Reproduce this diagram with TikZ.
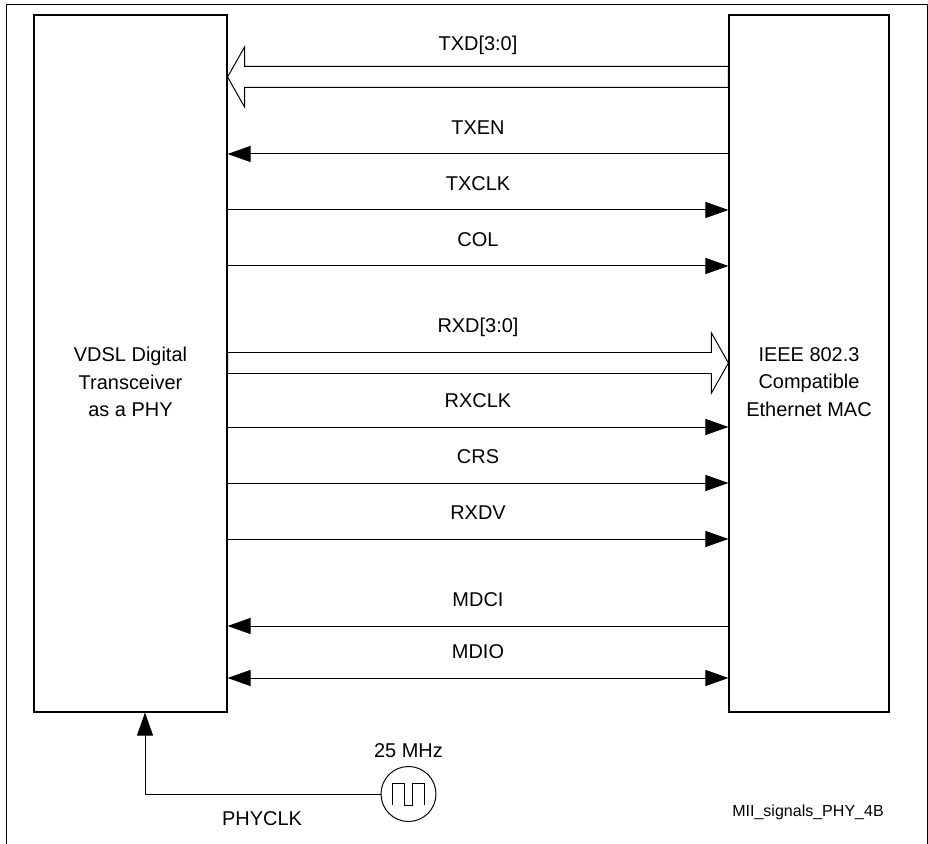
\documentclass[tikz,border=0pt]{standalone}
\usepackage{fontspec}
\setmainfont{Liberation Sans}
\usetikzlibrary{arrows.meta,calc}

\newcommand\sigfont{\fontsize{14.2}{19.6}\selectfont}
\newcommand\notefont{\fontsize{11.4}{13.7}\selectfont}

\tikzset{
  >={Triangle[length=0.575cm,width=0.4cm]},
  block/.style={draw, line width=0.8pt, minimum height=17.425cm, inner sep=0pt},
  blocktext/.style={font=\sigfont, align=center, inner sep=0pt},
  lbl/.style={font=\sigfont, inner sep=0pt, text height=10.2pt, text depth=0pt},
  note/.style={font=\notefont, inner sep=0pt},
  bus/.style={draw, fill=white, line join=miter},
  tomac/.style={->},
  tophy/.style={<-},
  bothway/.style={<->}
}

\begin{document}
\begin{tikzpicture}[line width=0.7pt, line cap=butt]
  \useasboundingbox (0,0) rectangle (23.2,21.1);
  % the frame round it all, open at the bottom
  \draw[line width=0.6pt] (0.15,0) -- (0.15,21.0) -- (23.175,21.0) -- (23.175,0);
  % the two blocks and their texts
  \node[block, minimum width=4.825cm] (PHY) at (3.2625,12.0125) {};
  \node[block, minimum width=4cm] (MAC) at (20.225,12.0125) {};
  \node[blocktext] (PHYtext) at (3.2625,11.55) {VDSL Digital\\Transceiver\\as a PHY};
  \node[blocktext] (MACtext) at (20.225,11.55) {IEEE 802.3\\Compatible\\Ethernet MAC};
  % the data bus going to the PHY
  \coordinate (txdL) at (PHY.east |- 0,19.175);
  \coordinate (txdR) at (MAC.west |- 0,19.175);
  \draw[bus] (txdL) -- ++(0.425,0.75) -- ++(0,-0.4875) -- (txdR |- 0,19.4375)
    -- (txdR |- 0,18.9125) -- ($(txdL)+(0.425,-0.2625)$) -- ++(0,-0.4875) -- cycle;
  \node[lbl] (txdlbl) at ($(txdL)!0.5!(txdR)+(0,0.85)$) {TXD[3:0]};
  % the data bus going to the MAC
  \coordinate (rxdL) at (PHY.east |- 0,12.025);
  \coordinate (rxdR) at (MAC.west |- 0,12.025);
  \draw[bus] (rxdR) -- ++(-0.425,0.75) -- ++(0,-0.4875) -- (rxdL |- 0,12.2875)
    -- (rxdL |- 0,11.7625) -- ($(rxdR)+(-0.425,-0.2625)$) -- ++(0,-0.4875) -- cycle;
  \node[lbl] (rxdlbl) at ($(rxdL)!0.5!(rxdR)+(0,0.95)$) {RXD[3:0]};
  % the single lines
  \foreach \name/\y/\way in {TXEN/17.25/tophy, TXCLK/15.85/tomac, COL/14.45/tomac,
      RXCLK/10.425/tomac, CRS/9.025/tomac, RXDV/7.625/tomac,
      MDCI/5.45/tophy, MDIO/4.15/bothway} {
    \draw[\way] (PHY.east |- 0,\y) -- node[lbl, yshift=0.675cm] (l\name) {\name} (MAC.west |- 0,\y);
  }
  % the clock and its line up to the PHY
  \node[circle, draw, minimum size=1.375cm, inner sep=0pt] (clk) at (10.2125,1.25) {};
  \draw (clk.center) ++(-0.39,-0.275) -- ++(0,0.55) -- ++(0.3,0) -- ++(0,-0.55)
    -- ++(0.2,0) -- ++(0,0.55) -- ++(0.3,0) -- ++(0,-0.55);
  \node[lbl] (freq) at (10.2125,2.35) {25 MHz};
  \draw[->] (clk.west) -| ([xshift=0.3625cm]PHY.south);
  \node[lbl] (clkname) at (6.55,0.65) {PHYCLK};
  \node[note] (figname) at (20.2,0.8) {MII\_signals\_PHY\_4B};
\end{tikzpicture}
\end{document}
